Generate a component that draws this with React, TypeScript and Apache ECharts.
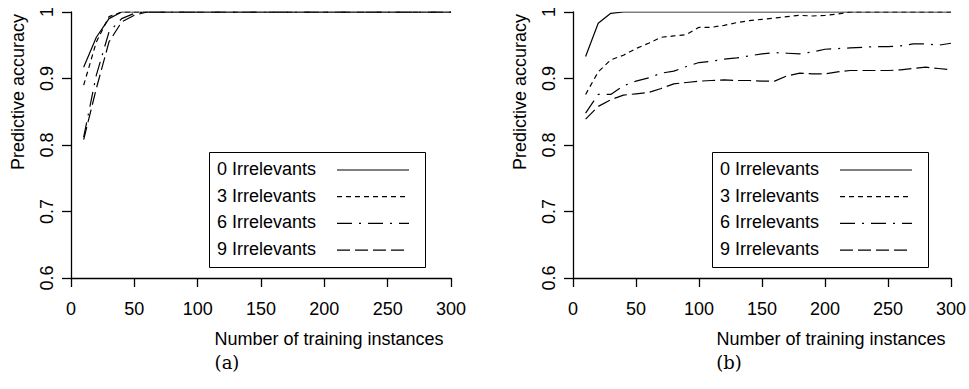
import React, { useEffect, useRef } from "react";
import * as echarts from "echarts";

const trainingSizes = [10, 20, 30, 40, 50, 60, 70, 80, 90, 100, 110, 120, 130, 140, 150, 160, 170, 180, 190, 200, 210, 220, 230, 240, 250, 260, 270, 280, 290, 300];

const seriesNames = ["0 Irrelevants", "3 Irrelevants", "6 Irrelevants", "9 Irrelevants"];

// Panel (a)
const a0 = [0.917, 0.962, 0.99, 1, 1, 1, 1, 1, 1, 1, 1, 1, 1, 1, 1, 1, 1, 1, 1, 1, 1, 1, 1, 1, 1, 1, 1, 1, 1, 1];
const a3 = [0.89, 0.955, 0.993, 1, 1, 1, 1, 1, 1, 1, 1, 1, 1, 1, 1, 1, 1, 1, 1, 1, 1, 1, 1, 1, 1, 1, 1, 1, 1, 1];
const a6 = [0.812, 0.905, 0.97, 0.99, 0.998, 1, 1, 1, 1, 1, 1, 1, 1, 1, 1, 1, 1, 1, 1, 1, 1, 1, 1, 1, 1, 1, 1, 1, 1, 1];
const a9 = [0.808, 0.885, 0.955, 0.985, 0.995, 1, 1, 1, 1, 1, 1, 1, 1, 1, 1, 1, 1, 1, 1, 1, 1, 1, 1, 1, 1, 1, 1, 1, 1, 1];

// Panel (b)
const b0 = [0.933, 0.983, 0.998, 1, 1, 1, 1, 1, 1, 1, 1, 1, 1, 1, 1, 1, 1, 1, 1, 1, 1, 1, 1, 1, 1, 1, 1, 1, 1, 1];
const b3 = [0.876, 0.91, 0.928, 0.935, 0.945, 0.953, 0.962, 0.964, 0.966, 0.977, 0.977, 0.98, 0.984, 0.987, 0.989, 0.991, 0.993, 0.995, 0.994, 0.995, 0.997, 1, 1, 1, 1, 1, 1, 1, 1, 1];
const b6 = [0.848, 0.876, 0.876, 0.889, 0.896, 0.901, 0.908, 0.911, 0.918, 0.924, 0.926, 0.929, 0.931, 0.934, 0.937, 0.939, 0.938, 0.937, 0.94, 0.944, 0.945, 0.946, 0.947, 0.948, 0.948, 0.949, 0.952, 0.952, 0.95, 0.953];
const b9 = [0.839, 0.858, 0.868, 0.875, 0.877, 0.879, 0.885, 0.892, 0.894, 0.896, 0.897, 0.898, 0.897, 0.897, 0.896, 0.896, 0.904, 0.908, 0.907, 0.907, 0.91, 0.912, 0.912, 0.912, 0.912, 0.913, 0.915, 0.917, 0.915, 0.913];

const xTitle = "Number of training instances";
const yTitle = "Predictive accuracy";
const panelLabels = ["(a)", "(b)"];

const FONT = "Liberation Sans, Arial, Helvetica, sans-serif";
const dashes: (number[] | "solid")[] = ["solid", [5, 4], [15, 7, 2, 7], [13, 5]];

export default function App() {
  const ref = useRef<HTMLDivElement>(null);
  useEffect(() => {
    if (!ref.current) return;
    const chart = echarts.init(ref.current, null, { renderer: "svg" });
    const panels = [
      { left: 71, width: 380, data: [a0, a3, a6, a9] },
      { left: 573, width: 379, data: [b0, b3, b6, b9] },
    ];
    const top = 12;
    const height = 266;

    const axisCommon = {
      axisLine: { show: true, lineStyle: { color: "#000", width: 1.3 } },
      axisTick: { show: true, inside: false, length: 9, lineStyle: { color: "#000", width: 1.3 } },
      splitLine: { show: false },
    };

    const grids = panels.map((p) => ({ left: p.left, top, width: p.width, height, containLabel: false }));
    const xAxes = panels.map((_, i) => ({
      type: "value",
      gridIndex: i,
      min: 0,
      max: 300,
      interval: 50,
      ...axisCommon,
      axisLabel: { color: "#000", fontSize: 18, fontFamily: FONT, margin: 22 },
    }));
    const yAxes = panels.map((_, i) => ({
      type: "value",
      gridIndex: i,
      min: 0.6,
      max: 1,
      interval: 0.1,
      ...axisCommon,
      axisLabel: {
        color: "#000",
        fontSize: 18,
        fontFamily: FONT,
        rotate: 90,
        margin: 15,
        formatter: (v: number) => (Math.abs(v - 1) < 1e-9 ? "1" : v.toFixed(1)),
      },
    }));

    const series: any[] = [];
    panels.forEach((p, pi) => {
      p.data.forEach((vals, si) => {
        series.push({
          type: "line",
          name: seriesNames[si],
          xAxisIndex: pi,
          yAxisIndex: pi,
          data: trainingSizes.map((x, k) => [x, vals[k]]),
          showSymbol: false,
          symbol: "none",
          lineStyle: { color: "#000", width: 1.2, type: dashes[si] },
          z: 2,
        });
      });
    });

    const graphics: any[] = [];
    panels.forEach((p, pi) => {
      const offset = pi === 0 ? 0 : 502;
      graphics.push({
        type: "text",
        x: 329 + offset,
        y: 339,
        style: { text: xTitle, font: `18px ${FONT}`, fill: "#000", textAlign: "center", textVerticalAlign: "middle" },
      });
      graphics.push({
        type: "text",
        x: 18 + offset,
        y: 92,
        rotation: Math.PI / 2,
        style: { text: yTitle, font: `18px ${FONT}`, fill: "#000", textAlign: "center", textVerticalAlign: "middle" },
      });
      graphics.push({
        type: "text",
        x: 227 + offset,
        y: 362,
        style: { text: panelLabels[pi], font: `18px "DejaVu Serif", "Liberation Serif", serif`, fill: "#000", textAlign: "center", textVerticalAlign: "middle" },
      });
      const bx = (pi === 0 ? 209 : 712);
      graphics.push({
        type: "rect",
        shape: { x: bx + 0.5, y: 152.5, width: 216, height: 115 },
        style: { fill: "#fff", stroke: "#000", lineWidth: 1 },
        z: 10,
      });
      seriesNames.forEach((name, si) => {
        const cy = 169 + si * 26.7;
        graphics.push({
          type: "text",
          x: bx + 8,
          y: cy,
          z: 11,
          style: { text: name, font: `18px ${FONT}`, fill: "#000", textAlign: "left", textVerticalAlign: "middle" },
        });
        graphics.push({
          type: "line",
          z: 11,
          shape: { x1: bx + 128, y1: cy + 1, x2: bx + 200, y2: cy + 1 },
          style: { stroke: "#000", lineWidth: 1.2, lineDash: dashes[si] === "solid" ? null : dashes[si] },
        });
      });
    });

    chart.setOption({
      animation: false,
      backgroundColor: "#fff",
      grid: grids,
      xAxis: xAxes,
      yAxis: yAxes,
      series,
      graphic: graphics,
    });
    return () => chart.dispose();
  }, []);
  return <div ref={ref} style={{ position: "absolute", left: 0, top: 0, width: 969, height: 389 }} />;
}
